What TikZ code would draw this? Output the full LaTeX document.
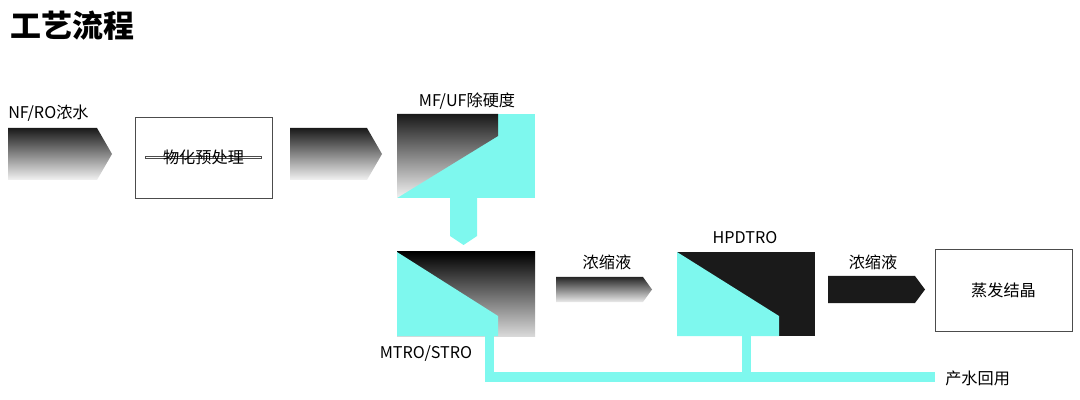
\documentclass[tikz,border=0pt]{standalone}
\usepackage{fontspec}
\setmainfont{Noto Sans CJK SC}
\begin{document}
\begin{tikzpicture}[x=0.025cm,y=-0.025cm,
  lbl/.style={font=\fontsize{11.5pt}{13pt}\selectfont,inner sep=0pt},
  boxs/.style={draw=black!70,line width=0.6pt,fill=white,font=\fontsize{11.5pt}{13pt}\selectfont},
  grad/.style={top color=black!90,bottom color=black!5},
  cy/.style={fill=cyanL,draw=none}]
\definecolor{cyanL}{HTML}{7EF8EE}
\definecolor{blk}{HTML}{1A1A1A}
\useasboundingbox (0,0) rectangle (1080,400);
\node[font=\bfseries\fontsize{22pt}{24pt}\selectfont,anchor=west,inner sep=0pt] (title) at (10,26) {工艺流程};
% arrow 1
\shade[grad] (8,128) -- (97,128) -- (112,154) -- (97,180) -- (8,180) -- cycle;
\node[lbl,anchor=west] (l1) at (8,113) {NF/RO浓水};
\node[boxs,minimum width=137\pgflinewidth,inner sep=0pt] (pre) at (203.5,157.5) {};
\draw[draw=black!70,line width=0.6pt] (135,117) rectangle (272,198);
\node[lbl] (pret) at (203.5,157.5) {物化预处理};
% arrow 2
\shade[grad] (290,128) -- (367,128) -- (382,154) -- (367,180) -- (290,180) -- cycle;
% MF/UF
\fill[cyanL] (397,114) rectangle (535,198);
\shade[grad] (397,114) -- (498,114) -- (498,136) -- (397,198) -- cycle;
\node[lbl] (mfuf) at (467,101) {MF/UF除硬度};
% down connector
\fill[cyanL] (450,198) -- (477,198) -- (477,236) -- (463.5,245) -- (450,236) -- cycle;
% MTRO
\shade[top color=black,bottom color=black!15,shading angle=0] (397,252) rectangle (535,336);
\fill[cyanL] (397,252) -- (498,316) -- (498,336) -- (397,336) -- cycle;
\node[lbl] (mtro) at (426,354) {MTRO/STRO};
% pipes
\fill[cyanL] (485,336) rectangle (494,382);
\fill[cyanL] (485,372) rectangle (935,382);
\fill[cyanL] (742,336) rectangle (751,373);
\node[lbl,anchor=west] (reuse) at (945,378) {产水回用};
% arrow 3
\shade[top color=black!85,bottom color=black!8] (556,277) -- (643,277) -- (652,289.5) -- (643,302) -- (556,302) -- cycle;
\node[lbl] (c1) at (607,262) {浓缩液};
% HPDTRO
\fill[blk] (677,252) rectangle (815,336);
\fill[cyanL] (677,252) -- (779,316) -- (779,336) -- (677,336) -- cycle;
\node[lbl] (hp) at (745,238) {HPDTRO};
% arrow 4
\fill[blk] (828,276) -- (915,276) -- (925,289.5) -- (915,303) -- (828,303) -- cycle;
\node[lbl] (c2) at (873,262) {浓缩液};
\draw[draw=black!70,line width=0.6pt] (935,249) rectangle (1072,331);
\node[lbl] (evap) at (1003.5,290) {蒸发结晶};
\end{tikzpicture}
\end{document}
